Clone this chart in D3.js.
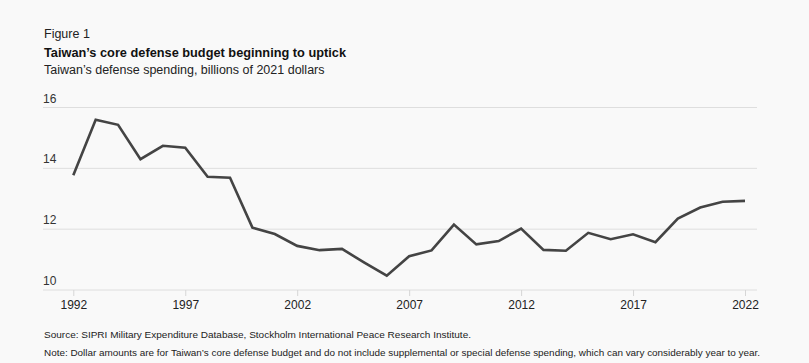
<!DOCTYPE html>
<html>
<head>
<meta charset="utf-8">
<script src="https://cdn.jsdelivr.net/npm/d3@7"></script>
<style>
  body { margin: 0; background: #f9f9f9; }
  text { font-family: "Liberation Sans", Arial, sans-serif; }
</style>
</head>
<body>
<script>
// Taiwan defense spending, billions of 2021 dollars
var years = d3.range(1992, 2023)
var spending = [13.77, 15.6, 15.43, 14.3, 14.74, 14.68, 13.72, 13.69, 12.05, 11.84,
  11.45, 11.31, 11.35, 10.9, 10.47, 11.11, 11.3, 12.15, 11.5, 11.61,
  12.02, 11.32, 11.29, 11.88, 11.67, 11.83, 11.57, 12.35, 12.71, 12.9, 12.93]
var yTicks = [10, 12, 14, 16]
var xTicks = [1992, 1997, 2002, 2007, 2012, 2017, 2022]

var width = 809,
    height = 363

var svg = d3.select("body")
  .append("svg")
  .attr("width", width)
  .attr("height", height)

svg.append("rect")
  .attr("width", width)
  .attr("height", height)
  .attr("fill", "#f9f9f9")

var x = d3.scaleLinear().domain([1992, 2022]).range([73.3, 745])
var y = d3.scaleLinear().domain([10, 16]).range([290, 107.5])

// header
svg.append("text").attr("x", 44).attr("y", 38)
  .attr("font-size", 12.5).attr("fill", "#222").text("Figure 1")
svg.append("text").attr("x", 44).attr("y", 56.5)
  .attr("font-size", 13.5).attr("font-weight", "bold").attr("fill", "#111")
  .attr("textLength", 302).attr("lengthAdjust", "spacingAndGlyphs")
  .text("Taiwan\u2019s core defense budget beginning to uptick")
svg.append("text").attr("x", 44).attr("y", 73.5)
  .attr("font-size", 12.5).attr("fill", "#222")
  .text("Taiwan\u2019s defense spending, billions of 2021 dollars")

// grid
svg.append("g")
  .selectAll("line")
  .data(yTicks)
  .enter().append("line")
  .attr("x1", 43).attr("x2", 757)
  .attr("y1", function(d){ return y(d) }).attr("y2", function(d){ return y(d) })
  .attr("stroke", "#dedede").attr("stroke-width", 1)

svg.append("g")
  .selectAll("text")
  .data(yTicks)
  .enter().append("text")
  .attr("x", 43).attr("y", function(d){ return y(d) - 5 })
  .attr("font-size", 12).attr("fill", "#333")
  .text(function(d){ return d })

// x axis
var xAxis = svg.append("g")
  .attr("transform", "translate(0,290)")
  .call(d3.axisBottom(x).tickValues(xTicks).tickFormat(d3.format("d")).tickSize(6).tickPadding(4))
xAxis.select(".domain").remove()
xAxis.selectAll(".tick line").attr("stroke", "#d6d6d6")
xAxis.selectAll(".tick text")
  .attr("font-family", "Liberation Sans, Arial, sans-serif")
  .attr("font-size", 12).attr("fill", "#222")

// line
var line = d3.line()
  .x(function(d, i){ return x(years[i]) })
  .y(function(d){ return y(d) })

svg.append("path")
  .datum(spending)
  .attr("d", line)
  .attr("fill", "none")
  .attr("stroke", "#444")
  .attr("stroke-width", 2.6)
  .attr("stroke-linejoin", "miter")

// footer
svg.append("text").attr("x", 44).attr("y", 338)
  .attr("font-size", 9.5).attr("fill", "#222")
  .attr("textLength", 427).attr("lengthAdjust", "spacingAndGlyphs")
  .text("Source: SIPRI Military Expenditure Database, Stockholm International Peace Research Institute.")
svg.append("text").attr("x", 44).attr("y", 355.5)
  .attr("font-size", 9.5).attr("fill", "#222")
  .attr("textLength", 716).attr("lengthAdjust", "spacingAndGlyphs")
  .text("Note: Dollar amounts are for Taiwan\u2019s core defense budget and do not include supplemental or special defense spending, which can vary considerably year to year.")
</script>
</body>
</html>
